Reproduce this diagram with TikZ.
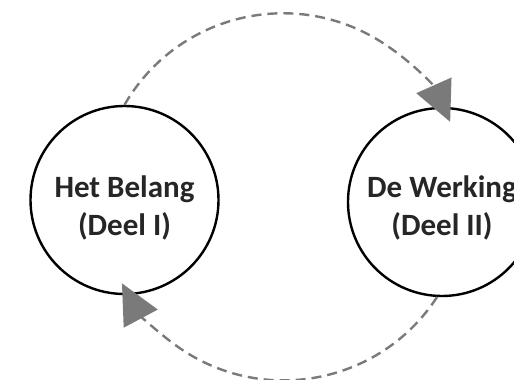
\documentclass[tikz,border=0pt]{standalone}
\usepackage{fontspec}
\setmainfont{Carlito}
\usetikzlibrary{arrows.meta}
\definecolor{linkgray}{RGB}{122,122,122}
\tikzset{
  part/.style={circle, draw=black, line width=2.4pt, minimum size=188pt, inner sep=0pt},
  parttext/.style={align=center, inner sep=0pt, font=\fontsize{31}{38}\selectfont\bfseries, text=black!85},
  link/.style={draw=linkgray, line width=2.4pt, dash pattern=on 10pt off 6pt,
    -{Triangle[length=40pt, width=38pt, fill=linkgray]}}
}
\begin{document}
\begin{tikzpicture}[x=1pt, y=1pt]
\useasboundingbox (0,0) rectangle (514,-380);
\node[part] (L) at (124.5,-200) {};
\node[part] (R) at (442,-202) {};
\node[parttext] (Lt) at (124.5,-208) {Het Belang\\(Deel I)};
\node[parttext] (Rt) at (442,-208) {De Werking\\(Deel II)};
\draw[link] (L.north) arc[start angle=150, end angle=24, radius=183];
\draw[link] (R.267) arc[start angle=-33, end angle=-152, radius=183];
\end{tikzpicture}
\end{document}
